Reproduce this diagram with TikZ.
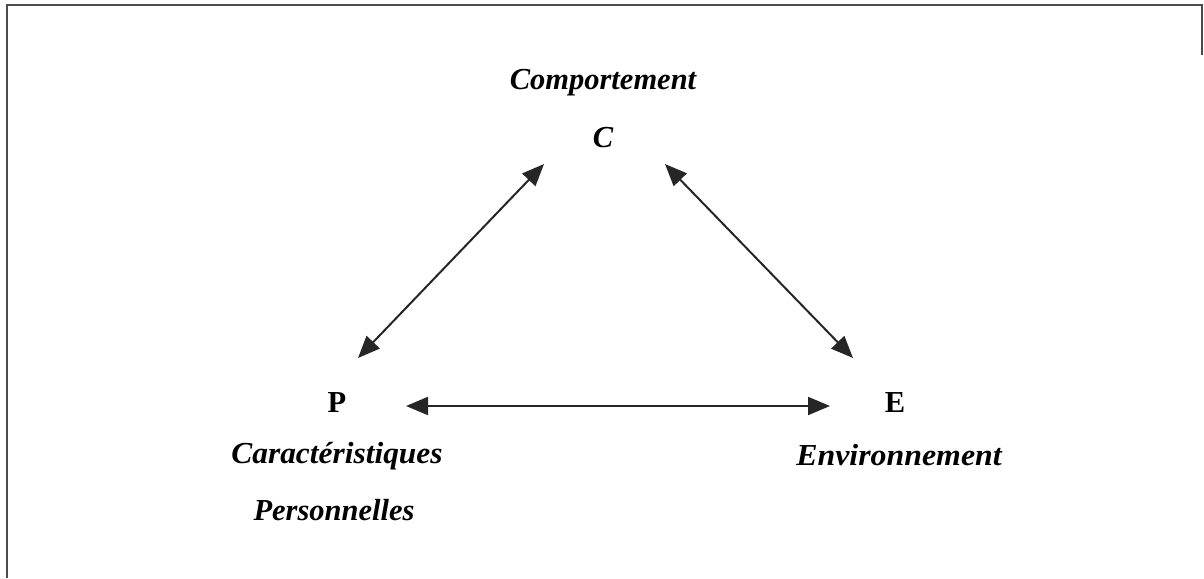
\documentclass[tikz,border=0pt]{standalone}
\usepackage{fontspec}
\setmainfont{Liberation Serif}
\usetikzlibrary{arrows.meta}
\begin{document}
\begin{tikzpicture}[x=1pt,y=-1pt,
  lbl/.style={font=\fontsize{30.5}{34}\selectfont\bfseries\itshape, inner sep=0pt},
  letter/.style={font=\fontsize{30.5}{34}\selectfont\bfseries, inner sep=0pt},
  dbl/.style={{Triangle[length=22pt,width=18pt]}-{Triangle[length=22pt,width=18pt]}, line width=2pt, draw=black!85, fill=black!85}]
\useasboundingbox (0,0) rectangle (1204,578);
\draw[line width=1.5pt, black!70] (7,578) -- (7,5) -- (1202,5) -- (1202,55);
\node[lbl] (comp) at (603,83) {Comportement};
\node[lbl] (C) at (603,138) {C};
\node[letter] (P) at (337,403) {P};
\node[letter] (E) at (895,403) {E};
\node[lbl, xscale=1.03] (car) at (337,456) {Caractéristiques};
\node[lbl] (pers) at (334,510) {Personnelles};
\node[lbl, xscale=1.045] (env) at (899,455) {Environnement};
\coordinate (pc1) at (358,358);
\coordinate (pc2) at (544,164);
\coordinate (ce1) at (665,164);
\coordinate (ce2) at (853,358);
\coordinate (pe1) at (406,406);
\coordinate (pe2) at (830,406);
\draw[dbl] (pc1) -- (pc2);
\draw[dbl] (ce1) -- (ce2);
\draw[dbl] (pe1) -- (pe2);
\end{tikzpicture}
\end{document}
